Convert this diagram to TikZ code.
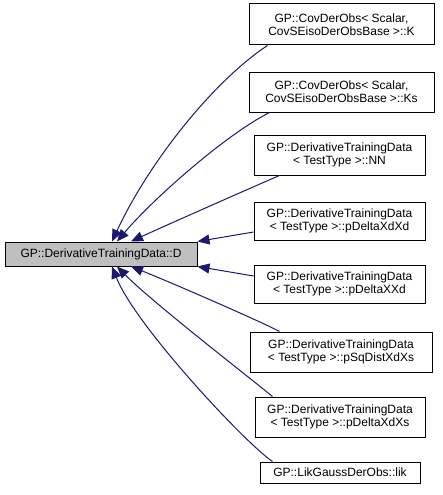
\documentclass[tikz,border=0pt]{standalone}
\usepackage{fontspec}
\setmainfont{Liberation Sans}
\usepackage{xcolor}
\usepackage{tikz}
\usetikzlibrary{arrows.meta}
\definecolor{edgeblue}{HTML}{191970}
\definecolor{rootfill}{HTML}{BFBFBF}
\definecolor{boxline}{HTML}{000000}

\begin{document}
\begin{tikzpicture}[
    x=1pt, y=-1pt,
    member/.style={
        draw=boxline,
        line width=1pt,
        align=center,
        inner sep=0pt,
        font=\fontsize{12}{13}\selectfont,
        fill=white
    },
    rootbox/.style={member, fill=rootfill},
    relation/.style={-{Triangle[length=12pt,width=10pt]}, line width=1pt, draw=edgeblue}
]
    \useasboundingbox (0,0) rectangle (443,495);

    \node[rootbox, minimum width=192pt, minimum height=24pt] (derivdata) at (101,254)
        {GP::DerivativeTrainingData::D};

    \node[member, minimum width=185pt, minimum height=41pt] (covk) at (341.5,24.5)
        {GP::CovDerObs< Scalar,\\ CovSEisoDerObsBase >::K};
    \node[member, minimum width=185pt, minimum height=40pt] (covks) at (341.5,92)
        {GP::CovDerObs< Scalar,\\ CovSEisoDerObsBase >::Ks};
    \node[member, minimum width=171pt, minimum height=40pt] (nn) at (339.5,155)
        {GP::DerivativeTrainingData\\< TestType >::NN};
    \node[member, minimum width=171pt, minimum height=38pt] (deltaxdxd) at (339.5,221)
        {GP::DerivativeTrainingData\\< TestType >::pDeltaXdXd};
    \node[member, minimum width=171pt, minimum height=38pt] (deltaxxd) at (339.5,284)
        {GP::DerivativeTrainingData\\< TestType >::pDeltaXXd};
    \node[member, minimum width=182pt, minimum height=40pt] (sqdistxdxs) at (341,352)
        {GP::DerivativeTrainingData\\< TestType >::pSqDistXdXs};
    \node[member, minimum width=170pt, minimum height=40pt] (deltaxdxs) at (340,417)
        {GP::DerivativeTrainingData\\< TestType >::pDeltaXdXs};
    \node[member, minimum width=160pt, minimum height=21pt] (lik) at (340,472.5)
        {GP::LikGaussDerObs::lik};

    \draw[relation] ([xshift=19pt]covk.south west)
        .. controls (215,80) and (150,160) .. ([xshift=11pt]derivdata.north);
    \draw[relation] ([xshift=21pt]covks.south west)
        .. controls (225,135) and (152,200) .. ([xshift=16pt]derivdata.north);
    \draw[relation] ([xshift=26pt]nn.south west)
        .. controls (255,186) and (160,228) .. ([xshift=30pt]derivdata.north);
    \draw[relation] ([yshift=-11pt]deltaxdxd.west) -- (derivdata.north east);
    \draw[relation] ([yshift=8pt]deltaxxd.west) -- (derivdata.south east);
    \draw[relation] ([xshift=30pt]sqdistxdxs.north west)
        .. controls (262,322) and (170,282) .. ([xshift=30pt]derivdata.south);
    \draw[relation] ([xshift=18pt]deltaxdxs.north west)
        .. controls (250,378) and (152,302) .. ([xshift=16pt]derivdata.south);
    \draw[relation] ([xshift=13pt]lik.north west)
        .. controls (245,443) and (135,325) .. ([xshift=11pt]derivdata.south);
\end{tikzpicture}
\end{document}
